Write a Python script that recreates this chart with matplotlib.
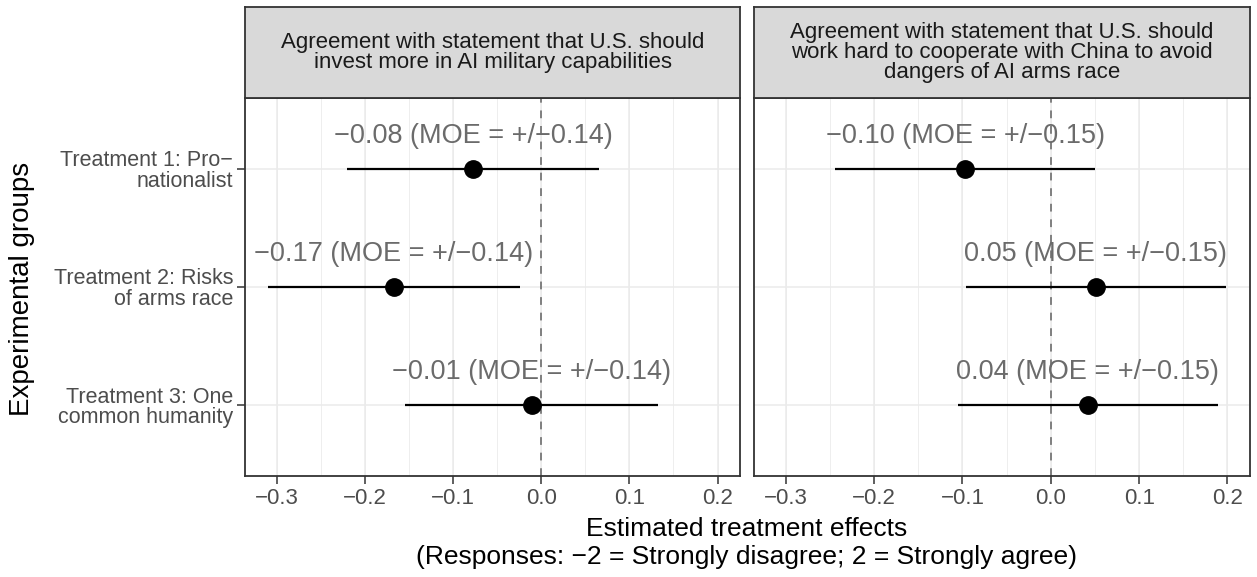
import matplotlib
matplotlib.use("Agg")
import matplotlib.pyplot as plt
import numpy as np

plt.rcParams['font.family'] = ['Liberation Sans', 'DejaVu Sans']

groups = ["Treatment 1: Pro\u2212\nnationalist",
          "Treatment 2: Risks\nof arms race",
          "Treatment 3: One\ncommon humanity"]
panel_titles = ["Agreement with statement that U.S. should\ninvest more in AI military capabilities",
                "Agreement with statement that U.S. should\nwork hard to cooperate with China to avoid\ndangers of AI arms race"]
est_military = [-0.077, -0.167, -0.011]
moe_military = [0.143, 0.143, 0.143]
est_cooperate = [-0.097, 0.051, 0.042]
moe_cooperate = [0.147, 0.147, 0.147]
label_est_military = ["\u22120.08", "\u22120.17", "\u22120.01"]
label_est_cooperate = ["\u22120.10", "0.05", "0.04"]
label_moe = ["0.14", "0.15"]
xticks = [-0.3, -0.2, -0.1, 0.0, 0.1, 0.2]

W, H = 1257, 577
fig = plt.figure(figsize=(W / 100, H / 100), dpi=100)

def fx(px):
    return px / W

def fy(py):
    return 1 - py / H

panel_px = [(245, 740), (754, 1250)]
ptop, pbot, stop = 98, 476, 7

ypos = [3, 2, 1]
data = [(est_military, moe_military, label_est_military, label_moe[0]),
        (est_cooperate, moe_cooperate, label_est_cooperate, label_moe[1])]

grey20 = '#333333'
for i, ((x0, x1), (est, moe, lab, lm), title) in enumerate(zip(panel_px, data, panel_titles)):
    ax = fig.add_axes([fx(x0), fy(pbot), fx(x1 - x0), (pbot - ptop) / H])
    ax.set_xlim(-0.336, 0.2255)
    ax.set_ylim(0.4, 3.6)
    for xm in np.arange(-0.35, 0.25, 0.05):
        ax.axvline(xm, color='#EBEBEB', lw=0.6, zorder=0)
    for xt in xticks:
        ax.axvline(xt, color='#EBEBEB', lw=1.1, zorder=0)
    for yv in ypos:
        ax.axhline(yv, color='#EBEBEB', lw=1.1, zorder=0)
    ax.axvline(0, color='#7F7F7F', lw=1.4, ls=(0, (4, 4)), zorder=1)
    est = np.array(est)
    moe = np.array(moe)
    ax.hlines(ypos, est - moe, est + moe, color='black', lw=1.6, zorder=2)
    ax.plot(est, ypos, 'o', color='black', ms=12.5, zorder=3)
    for e, y, l in zip(est, ypos, lab):
        ax.text(e, y + 0.28, f"{l} (MOE = +/\u2212{lm})", ha='center', va='center',
                fontsize=19.5, color='#6B6B6B', zorder=4)
    ax.set_xticks(xticks)
    ax.set_xticklabels([("\u2212" if t < 0 else "") + f"{abs(t):.1f}" for t in xticks])
    ax.set_yticks(ypos)
    if i == 0:
        ax.set_yticklabels(groups, fontsize=15.5, color='#4D4D4D', linespacing=0.95)
    else:
        ax.set_yticklabels([])
    ax.tick_params(axis='x', length=5.5, width=1.1, color=grey20, labelsize=16,
                   labelcolor='#4D4D4D', pad=3)
    ax.tick_params(axis='y', length=5.5, width=1.1, color=grey20,
                   labelcolor='#4D4D4D', pad=3)
    if i != 0:
        ax.tick_params(axis='y', length=0)
    for s in ax.spines.values():
        s.set_color(grey20)
        s.set_linewidth(1.3)
    sax = fig.add_axes([fx(x0), fy(ptop), fx(x1 - x0), (ptop - stop) / H])
    sax.set_facecolor('#D9D9D9')
    sax.set_xticks([])
    sax.set_yticks([])
    for s in sax.spines.values():
        s.set_color(grey20)
        s.set_linewidth(1.3)
    sax.text(0.5, 0.5, title, ha='center', va='center', fontsize=16,
             color='#1A1A1A', linespacing=0.95, transform=sax.transAxes)

fig.text(fx(747), fy(529), "Estimated treatment effects", ha='center', va='center',
         fontsize=19, color='black')
fig.text(fx(747), fy(557), "(Responses: \u22122 = Strongly disagree; 2 = Strongly agree)",
         ha='center', va='center', fontsize=19, color='black')
fig.text(fx(22), fy(289), "Experimental groups", rotation=90, ha='center', va='center',
         fontsize=20, color='black')

fig.savefig("out.png", dpi=100)
